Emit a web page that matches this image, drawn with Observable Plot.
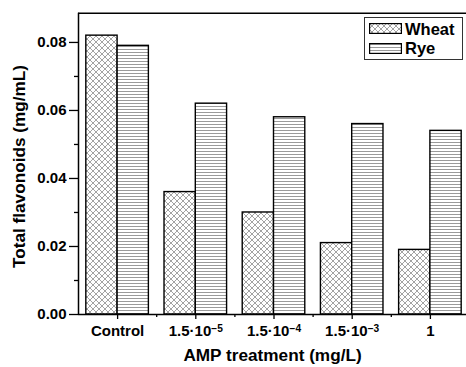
<!DOCTYPE html>
<html><head><meta charset="utf-8">
<script src="https://cdn.jsdelivr.net/npm/d3@7"></script>
<script src="https://cdn.jsdelivr.net/npm/@observablehq/plot@0.6"></script>
<style>
body{margin:0;background:#fff;}
#wrap{position:relative;width:466px;height:367px;overflow:hidden;font-family:"Liberation Sans",Arial,sans-serif;}
#legend{position:absolute;left:364px;top:17px;width:99px;height:43px;border:1px solid #333;background:#fff;box-sizing:border-box;}
.sw{position:absolute;left:4px;}
.lt{position:absolute;left:40px;font-weight:bold;font-size:16.5px;line-height:16px;color:#000;}
</style></head><body><div id="wrap"></div>
<script>
const categories = ["Control","1.5·10^-5","1.5·10^-4","1.5·10^-3","1"];
const wheat = [0.082,0.036,0.030,0.021,0.019];
const rye = [0.079,0.062,0.058,0.056,0.054];
const seriesNames = ["Wheat","Rye"];
const yTicks = [0,0.02,0.04,0.06,0.08];
const yMinorTicks = [0.01,0.03,0.05,0.07];
const yTitle = "Total flavonoids (mg/mL)";
const xTitle = "AMP treatment (mg/L)";

const yMax = 0.0886;
const xDomain = [-0.5, categories.length - 0.5];
const bw = 0.4;
const idx = categories.map((c,i)=>i);
const wheatRows = idx.map(i=>({i, value: wheat[i]}));
const ryeRows = idx.map(i=>({i, value: rye[i]}));
const minorX = idx.slice(1).map(i=>i-0.5);

const font = "Liberation Sans, Arial, sans-serif";
const chart = Plot.plot({
  width: 466, height: 367,
  marginLeft: 78, marginTop: 12.7, marginBottom: 53, marginRight: 0,
  style: {fontFamily: font, color: "#000", background: "#fff", overflow: "hidden"},
  x: {type: "linear", domain: xDomain, range: [78, 469], axis: null},
  y: {domain: [0, yMax], axis: null},
  marks: [
    Plot.rectY(wheatRows, {x1: d=>d.i-bw, x2: d=>d.i, y1: 0, y2: "value", fill: "url(#patWheat)", stroke: "#000", strokeWidth: 1.4}),
    Plot.rectY(ryeRows, {x1: d=>d.i, x2: d=>d.i+bw, y1: 0, y2: "value", fill: "url(#patRye)", stroke: "#000", strokeWidth: 1.4}),
    Plot.ruleY([0, yMax], {stroke: "#000", strokeWidth: 1.5}),
    Plot.ruleX([xDomain[0]], {stroke: "#000", strokeWidth: 1.5}),
    Plot.axisY(yTicks, {tickSize: 9, tickPadding: 3, tickFormat: d=>d.toFixed(2), fontSize: 15, fontWeight: "bold", label: null, strokeWidth: 1.3}),
    Plot.axisY(yMinorTicks, {tickSize: 4, tickFormat: ()=>"", label: null, strokeWidth: 1.3}),
    Plot.axisX(idx, {tickSize: 5, tickPadding: 6, tickFormat: i=>categories[i], fontSize: 15, fontWeight: "bold", label: null, strokeWidth: 1.3}),
    Plot.axisX(minorX, {tickSize: 3, tickFormat: ()=>"", label: null, strokeWidth: 1.3})
  ]
});

const svg = d3.select(chart);
svg.insert("defs", ":first-child").html(`
<pattern id="patWheat" patternUnits="userSpaceOnUse" width="6" height="6">
 <rect width="6" height="6" fill="white"/>
 <path d="M-1,-1L7,7M7,-1L-1,7" stroke="#8c8c8c" stroke-width="0.8"/>
</pattern>
<pattern id="patRye" patternUnits="userSpaceOnUse" width="6" height="3">
 <rect width="6" height="3" fill="white"/>
 <path d="M-1,1.5H7" stroke="#9a9a9a" stroke-width="1"/>
</pattern>`);

svg.selectAll("text").each(function(){
  const t = this.textContent;
  if (t.includes("^")) {
    const [base, exp] = t.split("^");
    const sel = d3.select(this);
    sel.text("");
    sel.append("tspan").text(base);
    sel.append("tspan").attr("dy", "-0.45em").attr("font-size", "0.68em").text(exp.replace("-", "\u2212"));
  }
});

// axis titles
svg.append("text").attr("transform", "translate(18.5,166.5) rotate(-90)")
  .attr("text-anchor", "middle").attr("dy", "0.36em")
  .attr("font-size", 17.2).attr("font-weight", "bold").attr("fill", "#000").text(yTitle);
svg.append("text").attr("transform", "translate(272.5,355)")
  .attr("text-anchor", "middle").attr("dy", "0.36em")
  .attr("font-size", 17.2).attr("font-weight", "bold").attr("fill", "#000").text(xTitle);

const wrap = document.getElementById("wrap");
wrap.appendChild(chart);
const legend = document.createElement("div");
legend.id = "legend";
const fills = ["url(#patWheat)", "url(#patRye)"];
const swTop = [5, 25], txtTop = [3, 22];
legend.innerHTML = seriesNames.map((s,k)=>
  `<svg class="sw" style="top:${swTop[k]}px" width="33" height="11"><rect x="0.6" y="0.6" width="31.8" height="9.8" fill="${fills[k]}" stroke="#000" stroke-width="1.2"/></svg>` +
  `<div class="lt" style="top:${txtTop[k]}px">${s}</div>`).join("");
wrap.appendChild(legend);
</script></body></html>
